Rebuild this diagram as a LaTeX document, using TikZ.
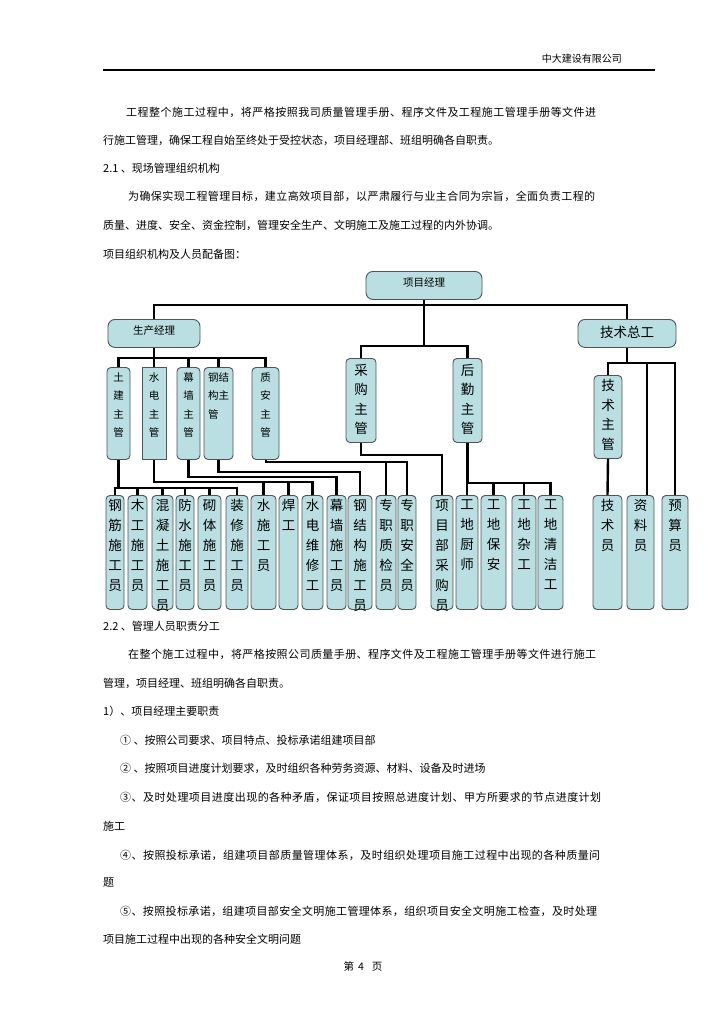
\documentclass[tikz,border=0pt]{standalone}
\usepackage{fontspec}
\setmainfont{Noto Sans CJK SC}

\definecolor{boxfill}{HTML}{BADFE2}
\definecolor{boxline}{HTML}{4F5455}

% fixed-size box with the text stacked from the top
\newcommand{\cell}[4]{\parbox[t][#2][t]{#1}{\vspace*{#3}\centering #4\par}}

% a text line spread out to a given width
\newcommand{\spread}[2]{\hbox to #1{\spreadfirst#2\relax}}
\def\spreadfirst#1{#1\spreadrest}
\def\spreadrest#1{\ifx#1\relax\else\hskip 0pt plus 1fil#1\expandafter\spreadrest\fi}

\begin{document}
\begin{tikzpicture}[
        x=1pt, y=-1pt,
        body/.style={anchor=west, inner sep=0pt, font=\fontsize{11}{14}\selectfont},
        unit/.style={draw=boxline, fill=boxfill, line width=0.9pt,
            rounded corners=4pt, inner sep=0pt, anchor=north},
        small/.style={font=\fontsize{10.5}{18.5}\selectfont},
        large/.style={font=\fontsize{13.5}{19.5}\selectfont},
        staff/.style={font=\fontsize{13.5}{20}\selectfont},
        wire/.style={line width=2.4pt}
    ]
    \useasboundingbox (0,0) rectangle (724,1024);

    % Page head
    \node[anchor=east, inner sep=0pt, font=\fontsize{10}{12}\selectfont] (company) at (622,59) {中大建设有限公司};
    \draw[line width=1.1pt] (103,70) -- (655,70);

    % Text above the chart
    \node[body] (p1a) at (126,112) {\spread{470pt}{工程整个施工过程中，将严格按照我司质量管理手册、程序文件及工程施工管理手册等文件进}};
    \node[body] (p1b) at (103,140) {行施工管理，确保工程自始至终处于受控状态，项目经理部、班组明确各自职责。};
    \node[body] (s21) at (103,168) {2.1 、现场管理组织机构};
    \node[body] (p2a) at (128,196) {\spread{467pt}{为确保实现工程管理目标，建立高效项目部，以严肃履行与业主合同为宗旨，全面负责工程的}};
    \node[body] (p2b) at (103,225) {质量、进度、安全、资金控制，管理安全生产、文明施工及施工过程的内外协调。};
    \node[body] (chartcap) at (103,254) {项目组织机构及人员配备图：};

    % Upper levels
    \node[unit, rounded corners=7pt, font=\fontsize{10.5}{12}\selectfont] (pm) at (424,271) {\cell{116pt}{28pt}{6pt}{项目经理}};
    \node[unit, rounded corners=7pt, font=\fontsize{10.5}{12}\selectfont] (prod) at (154,319) {\cell{92pt}{28pt}{6pt}{生产经理}};
    \node[unit, rounded corners=7pt, font=\fontsize{13.5}{15}\selectfont] (chief) at (627,319) {\cell{98pt}{28pt}{7pt}{技术总工}};

    \node[unit, large] (buy) at (361,358) {\cell{30pt}{84pt}{5.5pt}{采\\购\\主\\管}};
    \node[unit, large] (logi) at (467.5,358) {\cell{29pt}{84pt}{5.5pt}{后\\勤\\主\\管}};
    \node[unit, large] (techlead) at (608,375) {\cell{28pt}{83pt}{4pt}{技\\术\\主\\管}};

    \node[unit, small] (tj) at (118.5,367) {\cell{23pt}{92pt}{5pt}{土\\建\\主\\管}};
    \node[unit, small, sharp corners] (sd) at (154,367) {\cell{24pt}{92pt}{5pt}{水\\电\\主\\管}};
    \node[unit, small] (mq) at (188.5,367) {\cell{23pt}{92pt}{5pt}{幕\\墙\\主\\管}};
    \node[unit, small] (gjg) at (218.5,367) {\cell{29pt}{92pt}{5pt}{钢结\\构主\\管\hphantom{结}}};
    \node[unit, small] (za) at (265.5,367) {\cell{27pt}{92pt}{5pt}{质\\安\\主\\管}};

    % Staff row
    \foreach \nm/\cx/\w/\txt in {
            gj/115/18/{钢\\筋\\施\\工\\员}, mg/137.5/19/{木\\工\\施\\工\\员},
            hnt/162.5/21/{混\\凝\\土\\施\\工\\员}, fs/185/18/{防\\水\\施\\工\\员},
            qt/209.5/23/{砌\\体\\施\\工\\员}, zx/237/22/{装\\修\\施\\工\\员},
            ssg/263.5/25/{水\\施\\工\\员}, hg/288.5/19/{焊\\工},
            sdwx/312.5/21/{水\\电\\维\\修\\工}, mqsg/336.5/19/{幕\\墙\\施\\工\\员},
            gjgsg/360/24/{钢\\结\\构\\施\\工\\员}, zjzj/386/20/{专\\职\\质\\检\\员},
            zjaq/407/18/{专\\职\\安\\全\\员}, cgy/442/22/{项\\目\\部\\采\\购\\员},
            cs/467/22/{工\\地\\厨\\师}, ba/493.5/25/{工\\地\\保\\安},
            zg/524/24/{工\\地\\杂\\工}, qj/550.5/25/{工\\地\\清\\洁\\工},
            jsy/607.5/29/{技\\术\\员}, zly/640.5/27/{资\\料\\员},
            ysy/675/26/{预\\算\\员}}
        \node[unit, staff] (\nm) at (\cx,495) {\cell{\w pt}{114pt}{4pt}{\txt}};

    % Bus levels
    \coordinate (topbus) at (0,305);
    \coordinate (midbus) at (0,346);
    \coordinate (prodbus) at (0,358);
    \coordinate (techbus) at (0,363);
    \coordinate (zabus) at (0,462);
    \coordinate (buybus) at (0,455);
    \coordinate (gjgbus) at (0,472);
    \coordinate (mqbus) at (0,477);
    \coordinate (sdbus) at (0,482);
    \coordinate (logibus) at (0,483);
    \coordinate (tjbus) at (0,488);

    % Connectors, upper part
    \draw[wire] (prod.north) |- (chief.north |- topbus) -- (chief.north);
    \draw[wire] (pm.south) -- (pm.south |- midbus);
    \draw[wire] (buy.north) |- (logi.north |- midbus) -- (logi.north);
    \draw[wire] (prod.south) -- (sd.north);
    \draw[wire] (tj.north) |- (za.north |- prodbus) -- (za.north);
    \foreach \nm in {mq,gjg}
        \draw[wire] (\nm.north) -- (\nm.north |- prodbus);
    \draw[wire] (chief.south) -- (chief.south |- techbus);
    \draw[wire] (techlead.north) |- (ysy.north |- techbus) -- (ysy.north);
    \draw[wire] ([xshift=6.5pt]zly.north) -- ([xshift=6.5pt]zly.north |- techbus);
    \draw[wire] (techlead.south) -- (jsy.north);

    % Connectors, lower part
    \draw[wire] (tj.south) -- (tj.south |- tjbus);
    \draw[wire] (gj.north) |- (zx.north |- tjbus) -- (zx.north);
    \foreach \nm in {mg,hnt,fs,qt}
        \draw[wire] (\nm.north) -- (\nm.north |- tjbus);
    \draw[wire] (sd.south) |- (sdwx.north |- sdbus) -- (sdwx.north);
    \foreach \nm in {ssg,hg}
        \draw[wire] (\nm.north) -- (\nm.north |- sdbus);
    \draw[wire] (mq.south) |- (mqsg.north |- mqbus) -- (mqsg.north);
    \draw[wire] (gjg.south) |- (gjgsg.north |- gjgbus) -- (gjgsg.north);
    \draw[wire, line width=2pt] (za.south) |- (zjaq.north |- zabus) -- (zjaq.north);
    \draw[wire] (zjzj.north) -- (zjzj.north |- zabus);
    \draw[wire, line width=2pt] (buy.south) |- (cgy.north |- buybus) -- (cgy.north);
    \draw[wire] (logi.south) |- (qj.north |- logibus) -- (qj.north);
    \foreach \nm in {cs,ba,zg}
        \draw[wire] (\nm.north) -- (\nm.north |- logibus);

    % Text below the chart
    \node[body] (s22) at (103,626) {2.2 、管理人员职责分工};
    \node[body] (p3a) at (128,654) {\spread{468pt}{在整个施工过程中，将严格按照公司质量手册、程序文件及工程施工管理手册等文件进行施工}};
    \node[body] (p3b) at (103,683) {管理，项目经理、班组明确各自职责。};
    \node[body] (duty) at (103,711) {1）、项目经理主要职责};
    \node[body] (it1) at (120,740) {① 、按照公司要求、项目特点、投标承诺组建项目部};
    \node[body] (it2) at (120,768) {② 、按照项目进度计划要求，及时组织各种劳务资源、材料、设备及时进场};
    \node[body] (it3a) at (120,797) {\spread{481pt}{③、及时处理项目进度出现的各种矛盾，保证项目按照总进度计划、甲方所要求的节点进度计划}};
    \node[body] (it3b) at (103,826) {施工};
    \node[body] (it4a) at (120,855) {\spread{480pt}{④、按照投标承诺，组建项目部质量管理体系，及时组织处理项目施工过程中出现的各种质量问}};
    \node[body] (it4b) at (103,883) {题};
    \node[body] (it5a) at (120,911) {\spread{477pt}{⑤、按照投标承诺，组建项目部安全文明施工管理体系，组织项目安全文明施工检查，及时处理}};
    \node[body] (it5b) at (103,939) {项目施工过程中出现的各种安全文明问题};

    % Page foot
    \node[font=\fontsize{10.5}{12}\selectfont] (pageno) at (363,966) {第\hspace{4pt}4\hspace{8pt}页};

\end{tikzpicture}
\end{document}
